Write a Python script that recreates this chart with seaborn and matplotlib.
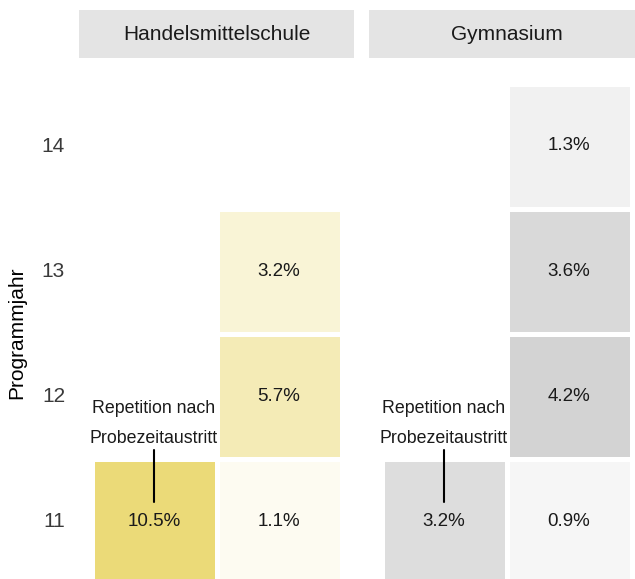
import numpy as np
import pandas as pd
import matplotlib
matplotlib.use("Agg")
import matplotlib.pyplot as plt
from matplotlib.colors import LinearSegmentedColormap
from matplotlib import font_manager
import seaborn as sns

# ---- data ----
years = [14, 13, 12, 11]
facets = ["Handelsmittelschule", "Gymnasium"]
hms_repetition = [np.nan, np.nan, np.nan, 10.5]
hms_regular = [np.nan, 3.2, 5.7, 1.1]
gym_repetition = [np.nan, np.nan, np.nan, 3.2]
gym_regular = [1.3, 3.6, 4.2, 0.9]
annotation_label = "Repetition nach\nProbezeitaustritt"
y_title = "Programmjahr"

sns.set_theme(style="white")
names = {f.name for f in font_manager.fontManager.ttflist}
fam = "Liberation Sans Narrow" if "Liberation Sans Narrow" in names else "Liberation Sans"
plt.rcParams["font.family"] = [fam, "DejaVu Sans"]

W, H, DPI = 635, 579, 100
fig = plt.figure(figsize=(W / DPI, H / DPI), dpi=DPI)

panel_left = [79, 369]
panel_w = 275
panel_top, panel_bot = 71, 596
strip_top, strip_bot = 10, 58

cmaps = [LinearSegmentedColormap.from_list("y", ["#FFFFFF", "#EBDA78"]),
         LinearSegmentedColormap.from_list("g", ["#FFFFFF", "#D3D3D3"])]
vmaxs = [10.5, 4.2]
data = [(hms_repetition, hms_regular), (gym_repetition, gym_regular)]

for i, (name, (rep, reg)) in enumerate(zip(facets, data)):
    ax = fig.add_axes([panel_left[i] / W, 1 - panel_bot / H, panel_w / W, (panel_bot - panel_top) / H])
    df = pd.DataFrame({"rep": rep, "reg": reg}, index=years)
    annot = df.map(lambda v: "" if np.isnan(v) else f"{v:.1f}%")
    sns.heatmap(df, ax=ax, cmap=cmaps[i], vmin=0, vmax=vmaxs[i], cbar=False,
                annot=annot.values, fmt="", linewidths=3.6, linecolor="white",
                annot_kws={"fontsize": 13.5, "color": "#1A1A1A"})
    ax.set_xlim(-0.1, 2.1)
    ax.set_ylim(4.1, -0.1)
    ax.set_xticks([])
    ax.set_xlabel("")
    ax.set_ylabel("")
    for s in ax.spines.values():
        s.set_visible(False)
    if i == 0:
        ax.set_yticks(np.arange(len(years)) + 0.5)
        ax.set_yticklabels([str(y) for y in years], rotation=0, fontsize=15, color="#3A3A3A")
        ax.tick_params(axis="y", length=0, pad=10)
    else:
        ax.set_yticks([])
    # annotation for the repetition tile
    l1, l2 = annotation_label.split("\n")
    ax.text(0.5, 2.6, l1, ha="center", va="center", fontsize=12.8, color="#1A1A1A")
    ax.text(0.5, 2.84, l2, ha="center", va="center", fontsize=12.8, color="#1A1A1A")
    ax.plot([0.5, 0.5], [2.93, 3.35], color="black", lw=1.5)

    # strip
    sax = fig.add_axes([panel_left[i] / W, 1 - strip_bot / H, panel_w / W, (strip_bot - strip_top) / H])
    sax.set_facecolor("#E4E4E4")
    sax.set_xticks([]); sax.set_yticks([])
    for s in sax.spines.values():
        s.set_visible(False)
    sax.text(0.5, 0.5, name, ha="center", va="center", fontsize=15, color="#1A1A1A", transform=sax.transAxes)

fig.text(17 / W, 1 - 333 / H, y_title, rotation=90, ha="center", va="center", fontsize=15, color="black")

fig.savefig("out.png", dpi=DPI)
